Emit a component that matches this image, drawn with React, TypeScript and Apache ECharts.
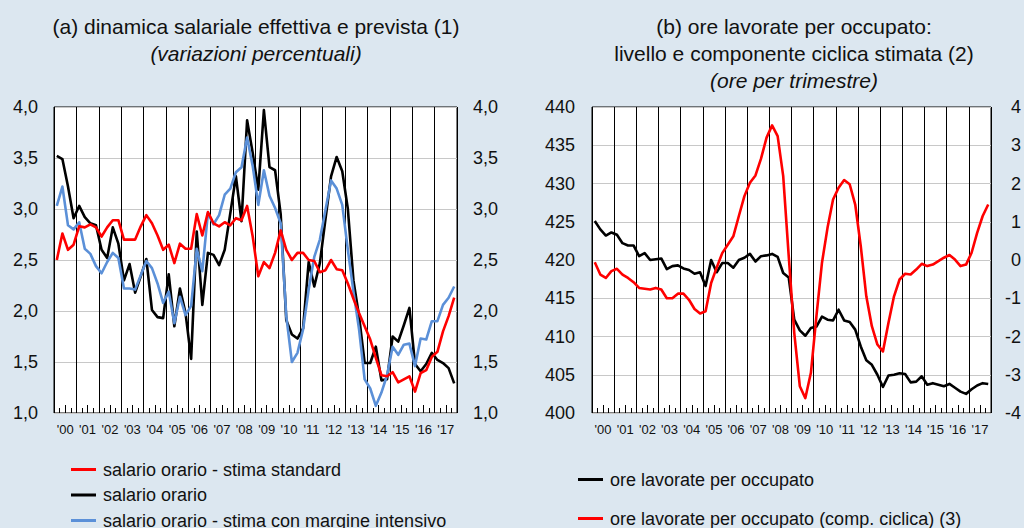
import React, { useEffect, useRef } from "react";
import * as echarts from "echarts";

const years = ["'00","'01","'02","'03","'04","'05","'06","'07","'08","'09","'10","'11","'12","'13","'14","'15","'16","'17"];
const quarterNames = ["T1", "T2", "T3", "T4"];

// panel (a) – wage dynamics (% changes)
const wageStandard = [
  2.50, 2.76, 2.60, 2.65, 2.83, 2.82, 2.85, 2.82, 2.73, 2.82, 2.89, 2.89,
  2.70, 2.70, 2.70, 2.83, 2.94, 2.86, 2.74, 2.60, 2.65, 2.47, 2.66, 2.61,
  2.61, 2.95, 2.74, 2.97, 2.86, 2.83, 2.87, 2.84, 2.91, 2.89, 3.03, 2.73,
  2.34, 2.48, 2.42, 2.57, 2.79, 2.60, 2.50, 2.57, 2.57, 2.50, 2.49, 2.38,
  2.40, 2.50, 2.41, 2.40, 2.27, 2.12, 1.98, 1.85, 1.72, 1.54, 1.37, 1.36,
  1.40, 1.30, 1.33, 1.36, 1.21, 1.39, 1.42, 1.55, 1.60, 1.80, 1.95, 2.13,
];
const wageHourly = [
  3.52, 3.49, 3.22, 2.91, 3.03, 2.92, 2.86, 2.84, 2.60, 2.52, 2.82, 2.66,
  2.30, 2.46, 2.18, 2.34, 2.51, 2.01, 1.94, 1.93, 2.36, 1.85, 2.22, 1.98,
  1.53, 2.78, 2.06, 2.57, 2.55, 2.45, 2.60, 2.96, 3.32, 2.88, 3.87, 3.55,
  3.19, 3.97, 3.41, 3.38, 2.95, 1.91, 1.77, 1.73, 1.83, 2.48, 2.24, 2.47,
  2.90, 3.32, 3.51, 3.37, 3.00, 2.30, 1.95, 1.49, 1.49, 1.65, 1.32, 1.33,
  1.75, 1.70, 1.86, 2.03, 1.48, 1.41, 1.48, 1.59, 1.52, 1.49, 1.44, 1.29,
];
const wageIntensive = [
  3.03, 3.22, 2.84, 2.80, 2.87, 2.61, 2.56, 2.44, 2.37, 2.48, 2.57, 2.52,
  2.22, 2.22, 2.21, 2.35, 2.49, 2.42, 2.27, 2.08, 2.19, 1.88, 2.14, 1.96,
  2.05, 2.61, 2.39, 2.96, 2.85, 2.94, 3.14, 3.20, 3.36, 3.41, 3.70, 3.42,
  3.04, 3.38, 3.13, 3.01, 2.86, 1.95, 1.50, 1.59, 1.82, 2.21, 2.53, 2.70,
  2.99, 3.28, 3.20, 3.04, 2.60, 2.19, 1.82, 1.33, 1.24, 1.07, 1.20, 1.37,
  1.65, 1.57, 1.67, 1.68, 1.46, 1.73, 1.72, 1.90, 1.90, 2.06, 2.13, 2.24,
];

// panel (b) – hours per employee
const hoursLevel = [
  425.1, 424.0, 423.2, 423.6, 423.3, 422.2, 421.9, 421.9, 420.5, 420.9, 420.0, 420.1,
  420.2, 418.8, 419.2, 419.3, 418.9, 418.7, 418.2, 418.4, 416.6, 420.0, 418.4, 419.6,
  419.6, 419.0, 420.0, 420.3, 420.8, 419.8, 420.5, 420.6, 420.8, 420.4, 418.3, 417.7,
  412.2, 410.8, 410.1, 411.1, 411.3, 412.6, 412.2, 412.1, 413.5, 412.1, 411.9, 410.9,
  408.7, 406.9, 406.3, 405.0, 403.4, 404.9, 405.0, 405.2, 405.1, 404.0, 404.1, 404.8,
  403.7, 403.9, 403.7, 403.5, 403.8, 403.3, 402.8, 402.5, 403.1, 403.6, 403.9, 403.8,
];
const hoursCyclical = [
  -0.06, -0.38, -0.47, -0.29, -0.23, -0.38, -0.47, -0.58, -0.73, -0.75, -0.77, -0.73,
  -0.77, -1.00, -1.00, -0.88, -0.88, -1.04, -1.28, -1.40, -1.34, -0.60, -0.20, 0.18,
  0.40, 0.62, 1.15, 1.67, 2.02, 2.21, 2.65, 3.20, 3.52, 3.24, 2.20, 0.10,
  -1.91, -3.30, -3.61, -2.95, -1.47, -0.07, 0.84, 1.58, 1.89, 2.09, 1.98, 1.45,
  0.36, -0.95, -1.73, -2.21, -2.39, -1.64, -0.95, -0.51, -0.36, -0.38, -0.25, -0.10,
  -0.16, -0.12, -0.03, 0.06, 0.13, 0.01, -0.16, -0.12, 0.19, 0.71, 1.15, 1.45,
];

const legendA = ["salario orario - stima standard", "salario orario", "salario orario - stima con margine intensivo"];
const legendB = ["ore lavorate per occupato", "ore lavorate per occupato (comp. ciclica) (3)"];

const FONT = "'Liberation Sans', Arial, Helvetica, sans-serif";
const TXT = "#111";
const RED = "#ff0000";
const BLACK = "#000000";
const BLUE = "#5b90d8";

const quarters: string[] = [];
years.forEach((y) => quarterNames.forEach((q) => quarters.push(y + q)));

const commaFmt = (v: number) => v.toFixed(1).replace(".", ",");

function quarterAxis(gridIndex: number) {
  return {
    type: "category",
    gridIndex,
    data: quarters,
    boundaryGap: true,
    position: "bottom",
    axisLine: { show: false, onZero: false },
    axisTick: { show: true, inside: true, interval: 0, length: 5, lineStyle: { color: "#000", width: 1 } },
    axisLabel: { show: false },
    splitLine: { show: false },
  };
}
function yearAxis(gridIndex: number) {
  return {
    type: "category",
    gridIndex,
    data: years,
    boundaryGap: true,
    position: "bottom",
    axisLine: { show: false, onZero: false },
    axisTick: { show: true, inside: true, interval: 0, alignWithLabel: true, length: 8, lineStyle: { color: "#000", width: 1 } },
    axisLabel: { interval: 0, margin: 10, fontSize: 13, color: TXT, fontFamily: FONT },
    splitLine: { show: true, interval: 0, lineStyle: { color: "#000", width: 1 } },
  };
}

function legendItem(name: string, left: number, centerY: number) {
  return {
    data: [name],
    orient: "vertical",
    left,
    top: centerY - 10,
    padding: 0,
    itemWidth: 25,
    itemHeight: 3,
    icon: "rect",
    textStyle: { fontFamily: FONT, fontSize: 18, color: TXT, lineHeight: 20, padding: [0, 0, 0, 2] },
  };
}

export default function App() {
  const ref = useRef<HTMLDivElement>(null);
  useEffect(() => {
    if (!ref.current) return;
    const chart = echarts.init(ref.current, undefined, { renderer: "svg" });
    const lineSeries = (name: string, data: number[], color: string, xAxisIndex: number, yAxisIndex: number) => ({
      name,
      type: "line",
      data,
      xAxisIndex,
      yAxisIndex,
      symbol: "none",
      smooth: false,
      lineStyle: { color, width: 2.6, join: "round" },
      itemStyle: { color },
    });
    const titleLine = (text: string, left: number, top: number, italic = false) => ({
      text,
      left,
      top,
      textAlign: "center",
      padding: 0,
      textStyle: { fontFamily: FONT, fontSize: 21, fontWeight: "normal", fontStyle: italic ? "italic" : "normal", color: TXT, lineHeight: 27 },
    });
    const yLabel = (margin: number, fmt?: (v: number) => string, align?: string) => ({
      margin,
      fontSize: 18,
      color: TXT,
      fontFamily: FONT,
      formatter: fmt,
      align,
    });
    chart.setOption({
      animation: false,
      backgroundColor: "transparent",
      textStyle: { fontFamily: FONT },
      title: [
        titleLine("(a) dinamica salariale effettiva e prevista (1)", 256, 12.5),
        titleLine("(variazioni percentuali)", 256, 40, true),
        titleLine("(b) ore lavorate per occupato:", 794, 12.5),
        titleLine("livello e componente ciclica stimata (2)", 794, 40),
        titleLine("(ore per trimestre)", 794, 67, true),
      ],
      legend: [
        legendItem(legendA[0], 71, 469.5),
        legendItem(legendA[1], 71, 495),
        legendItem(legendA[2], 71, 520.5),
        legendItem(legendB[0], 578, 479.5),
        legendItem(legendB[1], 578, 518.5),
      ],
      grid: [
        { left: 54, top: 107, width: 403, height: 306, show: true, backgroundColor: "#ffffff", borderColor: "#000", borderWidth: 1 },
        { left: 592, top: 107, width: 404, height: 306, show: true, backgroundColor: "#ffffff", borderColor: "#000", borderWidth: 1 },
      ],
      xAxis: [quarterAxis(0), yearAxis(0), quarterAxis(1), yearAxis(1)],
      yAxis: [
        {
          type: "value", gridIndex: 0, position: "left", min: 1, max: 4, interval: 0.5,
          axisLine: { show: false }, axisTick: { show: false },
          axisLabel: yLabel(16, commaFmt),
          splitLine: { show: true, lineStyle: { color: "#c8c8c8", width: 1 } },
        },
        {
          type: "value", gridIndex: 0, position: "right", min: 1, max: 4, interval: 0.5,
          axisLine: { show: false }, axisTick: { show: false },
          axisLabel: yLabel(16, commaFmt),
          splitLine: { show: false },
        },
        {
          type: "value", gridIndex: 1, position: "left", min: 400, max: 440, interval: 5,
          axisLine: { show: false }, axisTick: { show: false },
          axisLabel: yLabel(17),
          splitLine: { show: true, lineStyle: { color: "#c8c8c8", width: 1 } },
        },
        {
          type: "value", gridIndex: 1, position: "right", min: -4, max: 4, interval: 1,
          axisLine: { show: false }, axisTick: { show: false },
          axisLabel: yLabel(30, undefined, "right"),
          splitLine: { show: false },
        },
      ],
      series: [
        lineSeries(legendA[1], wageHourly, BLACK, 0, 0),
        lineSeries(legendA[2], wageIntensive, BLUE, 0, 0),
        lineSeries(legendA[0], wageStandard, RED, 0, 0),
        lineSeries(legendB[0], hoursLevel, BLACK, 2, 2),
        lineSeries(legendB[1], hoursCyclical, RED, 2, 3),
      ],
    });
    return () => chart.dispose();
  }, []);
  return (
    <div
      style={{ position: "fixed", left: 0, top: 0, width: 1024, height: 528, background: "#dce7f0", overflow: "hidden" }}
    >
      <div ref={ref} style={{ width: 1024, height: 528 }} />
    </div>
  );
}
